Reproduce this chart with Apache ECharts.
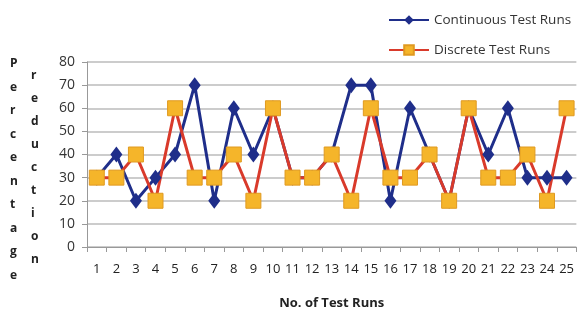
<!DOCTYPE html>
<html>
<head>
<meta charset="utf-8">
<script src="https://cdn.jsdelivr.net/npm/echarts@6/dist/echarts.min.js"></script>
<style>
  html, body { margin: 0; padding: 0; background: #fff; }
  #chart { width: 577px; height: 319px; }
</style>
</head>
<body>
<div id="chart"></div>
<script>
const runs = ['1','2','3','4','5','6','7','8','9','10','11','12','13','14','15','16','17','18','19','20','21','22','23','24','25']
const continuous = [30, 40, 20, 30, 40, 70, 20, 60, 40, 60, 30, 30, 40, 70, 70, 20, 60, 40, 20, 60, 40, 60, 30, 30, 30]
const discrete = [30, 30, 40, 20, 60, 30, 30, 40, 20, 60, 30, 30, 40, 20, 60, 30, 30, 40, 20, 60, 30, 30, 40, 20, 60]
const yTitle1 = 'Percentage'
const yTitle2 = 'reduction'

const font = '"Open Sans", "Liberation Sans", sans-serif'
const chart = echarts.init(document.getElementById('chart'))

chart.setOption({
  animation: false,
  grid: { left: 87, right: 0, top: 62, bottom: 72 },
  legend: {
    orient: 'vertical',
    left: 383,
    top: 8,
    itemGap: 16,
    itemWidth: 40,
    itemHeight: 12,
    textStyle: { fontFamily: font, fontSize: 13.5, color: '#333' },
    data: ['Continuous Test Runs', 'Discrete Test Runs']
  },
  graphic: [
    {
      type: 'text',
      left: 10,
      top: 52,
      style: {
        text: yTitle1.split('').join('\n'),
        font: 'bold 12px ' + font,
        fill: '#222',
        lineHeight: 23.5,
        align: 'center'
      }
    },
    {
      type: 'text',
      left: 31,
      top: 64,
      style: {
        text: yTitle2.split('').join('\n'),
        font: 'bold 12px ' + font,
        fill: '#222',
        lineHeight: 23,
        align: 'center'
      }
    }
  ],
  xAxis: {
    type: 'category',
    data: runs,
    boundaryGap: true,
    name: 'No. of Test Runs',
    nameLocation: 'middle',
    nameGap: 50,
    nameTextStyle: { fontFamily: font, fontSize: 13, fontWeight: 'bold', color: '#222' },
    axisLine: { lineStyle: { color: '#999' } },
    axisTick: { show: true, length: 5, lineStyle: { color: '#999' } },
    axisLabel: { interval: 0, margin: 16, fontFamily: font, fontSize: 13, color: '#222' }
  },
  yAxis: {
    type: 'value',
    min: 0,
    max: 80,
    interval: 10,
    axisLine: { show: true, lineStyle: { color: '#999' } },
    axisTick: { show: true, length: 5, lineStyle: { color: '#999' } },
    axisLabel: { margin: 12, fontFamily: font, fontSize: 14, color: '#333' },
    splitLine: { lineStyle: { color: '#bbb', width: 1.5 } }
  },
  series: [
    {
      name: 'Continuous Test Runs',
      type: 'line',
      data: continuous,
      symbol: 'diamond',
      symbolSize: [12, 16],
      lineStyle: { color: '#1f2e8a', width: 3 },
      itemStyle: { color: '#1f2e8a' }
    },
    {
      name: 'Discrete Test Runs',
      type: 'line',
      data: discrete,
      symbol: 'rect',
      symbolSize: 15,
      lineStyle: { color: '#d93a2b', width: 3 },
      itemStyle: { color: '#f5b52a', borderColor: '#e09a20', borderWidth: 1 }
    }
  ]
})
</script>
</body>
</html>
